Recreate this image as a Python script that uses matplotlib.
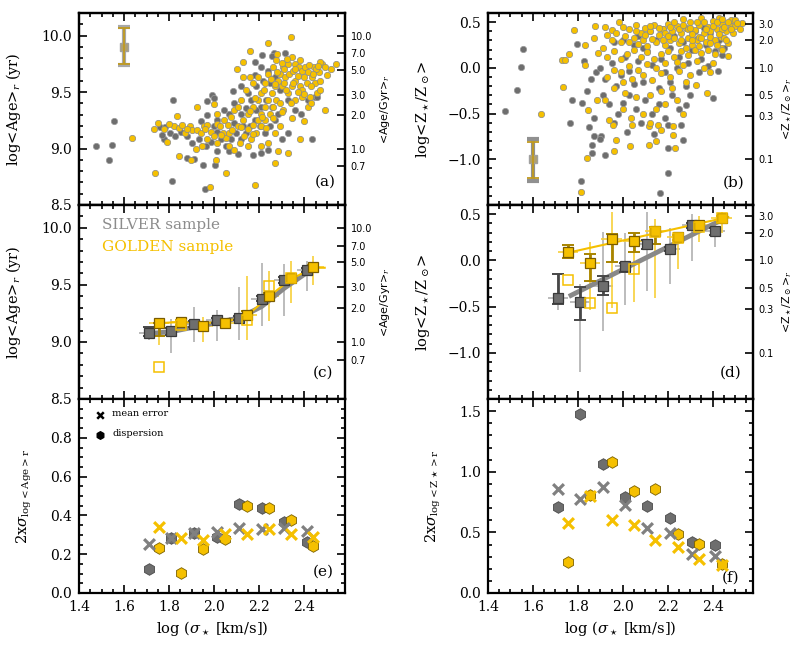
import numpy as np
import matplotlib
matplotlib.use("Agg")
import matplotlib.pyplot as plt
from matplotlib.ticker import MultipleLocator

plt.rcParams['font.family'] = ['DejaVu Serif']
plt.rcParams['mathtext.fontset'] = 'dejavuserif'

# ---------------- data ----------------
# panel (a): individual galaxies, log sigma vs log<Age>
a_silver = [(1.476,9.02),(1.531,8.90),(1.546,9.03),(1.555,9.24),(1.812,8.71),(1.958,8.64),(1.952,8.85),
            (2.002,8.85),(2.433,9.08),(2.171,8.94),(2.448,9.46),(2.384,9.31),(2.212,9.83),(2.266,9.85),
            (2.315,9.85),(2.257,9.82),(2.179,9.77),(2.085,9.51),(1.97,9.42),(1.989,9.47),(1.76,9.19),
            (1.775,9.08),(1.805,9.14),(1.827,9.11),(1.853,9.15),(1.88,9.11),(1.902,9.05),(1.932,9.08),
            (1.962,9.02),(1.984,9.06),(2.014,9.15),(2.029,9.08),(2.052,9.02),(2.074,9.08),(2.097,9.14),
            (2.119,9.08),(2.142,9.14),(2.157,9.20),(2.179,9.25),(2.202,9.20),(2.224,9.14),(2.246,9.20),
            (2.269,9.25),(2.284,9.31),(2.254,9.37),(2.231,9.43),(2.209,9.37),(2.186,9.34),(2.164,9.43),
            (2.149,9.49),(2.186,9.55),(2.216,9.60),(2.246,9.58),(2.269,9.63),(2.291,9.52),(2.239,9.69),
            (2.209,9.72),(2.179,9.65),(2.119,9.55),(2.089,9.40),(2.067,9.31),(2.044,9.34),(2.014,9.25),
            (1.999,9.20),(1.97,9.30),(1.94,9.24),(2.119,9.31),(2.142,9.36),(2.127,9.20),(2.089,9.23),
            (2.329,9.43),(2.359,9.34),(2.418,9.43),(2.455,9.46),(2.329,9.14),(2.299,9.08),(2.239,8.99),
            (2.209,8.96),(2.104,8.95),(2.067,8.98),(2.014,8.98),(1.91,8.91),(1.88,8.92),(1.768,9.12),
            (1.783,9.19),(1.817,9.43),(1.999,9.45)]
a_golden = [(1.733,9.17),(1.75,9.23),(1.775,9.17),(1.82,9.20),(1.842,9.18),(1.857,9.21),(1.892,9.20),
            (1.835,9.29),(1.79,9.06),(1.872,9.14),(1.902,9.16),(1.917,9.00),(1.925,9.16),(1.94,9.14),
            (1.955,9.20),(1.97,9.21),(1.987,9.15),(2.014,9.22),(2.026,9.20),(2.044,9.25),(2.06,9.21),
            (2.074,9.28),(2.037,9.14),(2.052,9.09),(2.067,9.02),(2.089,8.99),(2.112,9.05),(2.134,9.11),
            (2.149,9.17),(2.171,9.21),(2.194,9.25),(2.209,9.31),(2.224,9.37),(2.239,9.43),(2.254,9.49),
            (2.269,9.55),(2.284,9.60),(2.291,9.66),(2.306,9.72),(2.329,9.75),(2.344,9.81),(2.359,9.75),
            (2.374,9.72),(2.389,9.69),(2.404,9.72),(2.418,9.68),(2.433,9.63),(2.448,9.58),(2.463,9.68),
            (2.411,9.58),(2.381,9.55),(2.359,9.60),(2.344,9.55),(2.329,9.49),(2.314,9.63),(2.299,9.55),
            (2.276,9.43),(2.261,9.37),(2.246,9.31),(2.227,9.25),(2.209,9.20),(2.186,9.14),(2.164,9.08),
            (2.149,9.02),(2.269,9.14),(2.291,9.20),(2.306,9.34),(2.359,9.43),(2.389,9.46),(2.426,9.46),
            (2.418,9.37),(2.455,9.49),(2.441,9.72),(2.478,9.75),(2.209,9.49),(2.194,9.43),(2.171,9.37),
            (2.149,9.31),(2.127,9.25),(2.104,9.20),(2.119,9.43),(2.142,9.52),(2.171,9.58),(2.194,9.63),
            (2.224,9.58),(2.239,9.66),(2.261,9.72),(2.276,9.78),(2.299,9.76),(2.321,9.79),(2.209,9.02),
            (2.239,9.05),(2.014,9.05),(1.999,9.11),(1.97,9.08),(1.947,9.02),(2.067,9.14),(2.089,9.34),
            (2.104,9.37),(2.127,9.63),(2.157,9.63),(1.999,9.39),(2.014,9.31),(2.541,9.75),(2.493,9.34),
            (2.468,9.77),(2.40,9.24),(2.343,9.27),(2.38,9.08),(2.329,8.96),(2.282,8.98),(2.342,9.99),
            (2.237,9.93),(2.159,9.86),(2.127,9.77),(2.101,9.70),(1.637,9.09),(1.735,8.78),(1.98,8.66),
            (2.053,8.78),(2.182,8.68),(2.269,8.87),(1.842,8.93),(1.895,8.90),(2.007,8.90),(1.925,9.37),
            (2.33,9.66),(2.37,9.64),(2.40,9.63),(2.45,9.70),(2.47,9.60),(2.35,9.69),(2.28,9.68),
            (2.31,9.58),(2.39,9.52),(2.43,9.55),(2.25,9.62),(2.32,9.52),(2.37,9.50),(2.29,9.40),
            (2.36,9.70),(2.38,9.78),(2.42,9.74),(2.44,9.66),(2.46,9.73),(2.49,9.72),(2.50,9.65),
            (2.47,9.52),(2.43,9.40),(2.40,9.48),(2.35,9.58),(2.31,9.70),(2.27,9.57),(2.22,9.52),
            (2.18,9.45),(2.16,9.33),(2.21,9.28),(2.26,9.27),(2.30,9.32),(2.08,9.16),(2.12,9.19),
            (2.03,9.12),(1.96,9.17),(1.88,9.17),(1.80,9.22),(2.17,9.13),(2.23,9.18),(2.34,9.40),
            (2.52,9.70),(2.28,9.84)]

# panel (b): individual galaxies, log sigma vs log<Z/Zsun>
b_silver = [(1.476,-0.47),(1.529,-0.24),(1.545,0.01),(1.556,0.21),(1.766,-0.60),(1.773,-0.35),(1.796,0.26),
            (1.813,-1.24),(1.827,0.07),(1.862,-0.84),(1.863,-0.93),(1.87,-0.75),(1.904,-0.75),(1.919,-0.95),
            (2.167,-1.37),(2.20,-1.15),(2.20,-0.88),(2.267,-0.79),(2.422,-0.03),(2.441,0.145),(2.403,-0.33),
            (2.281,-0.41),(1.88,-0.05),(1.90,0.00),(1.92,-0.12),(1.95,0.05),(1.97,-0.20),(1.99,-0.08),
            (2.01,0.12),(2.03,-0.03),(2.05,0.25),(2.07,0.08),(2.09,-0.15),(2.11,0.18),(2.13,0.03),(2.15,0.30),
            (2.17,0.10),(2.19,-0.05),(2.21,0.22),(2.23,0.35),(2.25,0.12),(2.27,0.28),(2.29,0.05),(2.31,0.20),
            (2.33,0.32),(2.35,0.10),(2.37,0.25),(2.39,0.38),(2.41,0.18),(2.43,0.30),(2.45,0.22),(2.00,-0.38),
            (2.03,-0.30),(2.06,-0.45),(2.10,-0.35),(2.13,-0.50),(2.16,-0.40),(2.19,-0.55),(2.22,-0.30),
            (2.25,-0.45),(2.28,-0.20),(1.94,-0.40),(1.91,-0.30),(1.87,-0.55),(1.96,-0.60),(2.02,-0.70),
            (2.08,-0.60),(2.14,-0.72),(2.20,-0.62),(2.26,-0.62),(1.84,-0.25),(1.86,-0.12),(2.07,0.35),
            (2.12,0.40),(2.18,0.43),(2.00,0.30),(1.96,0.28),(2.09,0.22),(2.16,-0.22),(2.21,-0.15),
            (2.30,-0.30),(2.34,-0.05),(2.38,0.02),(1.98,-0.50),(2.05,-0.18),(1.85,-0.65),(1.90,-0.78),
            (1.82,-0.38),(2.24,0.00),(2.32,0.40),(2.36,0.44)]
b_golden = [(1.634,-0.50),(1.785,0.41),(1.732,-0.21),(1.73,0.09),(1.745,0.09),(1.76,0.15),(1.813,-1.36),
            (1.84,-0.99),(1.833,0.25),(1.834,0.03),(1.874,0.33),(1.877,0.46),(1.919,0.45),(1.953,0.41),
            (1.985,0.50),(1.844,-0.46),(1.887,-0.35),(1.921,-0.35),(1.956,-0.63),(1.96,-0.91),(1.97,-0.79),
            (2.033,-0.86),(2.119,-0.84),(2.148,-0.80),(2.234,-0.88),(2.222,-0.73),(2.037,-0.55),(2.119,-0.64),
            (2.156,-0.62),(2.222,-0.64),(2.326,-0.19),(2.375,-0.28),(2.388,-0.04),(2.437,0.22),(2.437,0.34),
            (2.53,0.49),(2.481,0.46),(2.00,0.45),(2.03,0.42),(2.06,0.47),(2.08,0.38),(2.10,0.44),(2.12,0.40),
            (2.14,0.47),(2.16,0.36),(2.18,0.42),(2.20,0.48),(2.22,0.40),(2.24,0.46),(2.26,0.38),(2.28,0.44),
            (2.30,0.50),(2.32,0.41),(2.34,0.47),(2.36,0.38),(2.38,0.45),(2.40,0.51),(2.42,0.43),(2.44,0.48),
            (2.46,0.40),(2.48,0.52),(2.50,0.46),(2.52,0.42),(2.27,0.53),(2.35,0.55),(2.43,0.55),(2.21,0.30),
            (2.25,0.27),(2.29,0.33),(2.31,0.25),(2.33,0.30),(2.37,0.28),(2.39,0.34),(2.41,0.30),(2.45,0.33),
            (2.47,0.27),(2.23,0.33),(2.19,0.25),(2.15,0.28),(2.13,0.32),(2.11,0.24),(2.09,0.30),(2.07,0.26),
            (2.05,0.33),(2.03,0.28),(2.01,0.35),(1.99,0.28),(1.97,0.38),(1.95,0.30),(1.93,0.36),(1.91,0.22),
            (1.89,0.16),(1.93,0.12),(1.96,0.18),(1.99,0.10),(2.02,0.15),(2.05,0.20),(2.08,0.12),(2.11,0.17),
            (2.14,0.10),(2.17,0.15),(2.20,0.18),(2.23,0.12),(2.26,0.18),(2.29,0.14),(2.32,0.20),(2.35,0.16),
            (2.38,0.20),(2.41,0.15),(2.44,0.19),(2.47,0.13),(2.24,0.06),(2.27,0.03),(2.33,0.07),(2.36,0.00),
            (2.40,0.05),(2.19,0.05),(2.15,0.00),(2.11,0.04),(2.07,-0.02),(2.03,0.02),(1.99,-0.05),(1.96,-0.02),
            (1.93,-0.10),(2.00,-0.15),(2.04,-0.12),(2.09,-0.08),(2.13,-0.13),(2.17,-0.06),(2.21,-0.10),
            (2.25,-0.03),(2.30,-0.08),(2.28,-0.16),(2.22,-0.22),(2.17,-0.25),(2.12,-0.30),(2.06,-0.32),
            (2.01,-0.28),(1.96,-0.22),(2.15,-0.45),(2.09,-0.50),(2.00,-0.45),(2.19,-0.40),(2.24,-0.35),
            (2.27,-0.50),(2.12,-0.60),(2.04,-0.62),(1.94,-0.57),(2.17,-0.68),(2.31,0.37),(2.34,0.34),
            (2.39,0.40),(2.44,0.42),(2.49,0.38),(2.36,0.50),(2.29,0.42),(2.21,0.45),
            (2.25,0.42),(2.27,0.47),(2.30,0.44),(2.33,0.50),(2.37,0.43),(2.40,0.46),(2.42,0.50),
            (2.45,0.45),(2.47,0.50),(2.50,0.52),(2.23,0.50),(2.19,0.38),(2.16,0.44),(2.31,0.30),
            (2.35,0.33),(2.43,0.37),(2.46,0.30),(2.39,0.27),(2.28,0.22),(2.20,0.35),(2.12,0.46),
            (2.06,0.40),(2.10,0.36),(2.18,0.30),(2.26,0.30),(2.34,0.24),(2.42,0.25),(2.48,0.43),
            (2.51,0.49),(2.44,0.53)]

# typical error bars (top-left in a, bottom-left in b)
a_typ = dict(x=1.6, y=9.9, silver=(9.74, 10.08), golden=(9.75, 10.07))
b_typ = dict(x=1.6, y=-1.0, silver=(-1.24, -0.78), golden=(-1.21, -0.81))

# binned values
silver_bins = [1.71, 1.81, 1.91, 2.01, 2.11, 2.21, 2.31, 2.41]
golden_bins = [1.755, 1.854, 1.95, 2.048, 2.145, 2.244, 2.34, 2.44]

c_silver_y = [9.076, 9.097, 9.158, 9.19, 9.21, 9.38, 9.545, 9.633]
c_silver_thin_lo = [9.02, 8.90, 9.00, 9.01, 9.02, 9.14, 9.23, 9.45]
c_silver_thin_hi = [9.13, 9.20, 9.31, 9.28, 9.48, 9.69, 9.68, 9.71]
c_silver_dark_lo = [9.05, 9.06, 9.13, 9.17, 9.19, 9.36, 9.52, 9.61]
c_silver_dark_hi = [9.13, 9.12, 9.18, 9.21, 9.23, 9.40, 9.57, 9.65]
c_golden_y = [9.164, 9.176, 9.138, 9.167, 9.232, 9.405, 9.563, 9.654]
c_golden_thin_lo = [8.97, 9.12, 9.00, 9.12, 9.02, 9.18, 9.34, 9.50]
c_golden_thin_hi = [9.19, 9.20, 9.22, 9.20, 9.58, 9.62, 9.71, 9.75]
c_golden_dark_lo = [9.05, 9.15, 9.11, 9.15, 9.20, 9.38, 9.54, 9.63]
c_golden_dark_hi = [9.17, 9.19, 9.16, 9.19, 9.27, 9.43, 9.58, 9.67]
c_golden_open_x = [1.755, 1.854, 2.145, 2.244, 2.34]
c_golden_open_y = [8.78, 9.15, 9.19, 9.49, 9.56]
c_silver_fit_x = [1.69, 1.81, 1.91, 2.01, 2.11, 2.21, 2.31, 2.42]
c_silver_fit_y = [9.07, 9.09, 9.13, 9.17, 9.21, 9.31, 9.47, 9.62]
c_golden_fit_x = [1.755, 1.854, 1.95, 2.048, 2.145, 2.244, 2.34, 2.44, 2.49]
c_golden_fit_y = [9.165, 9.175, 9.165, 9.175, 9.23, 9.40, 9.55, 9.65, 9.65]

d_silver_y = [-0.405, -0.452, -0.278, -0.065, 0.174, 0.12, 0.38, 0.32]
d_silver_thin_lo = [-0.54, -1.21, -0.76, -0.48, -0.33, -0.26, -0.01, 0.14]
d_silver_thin_hi = [-0.15, -0.25, 0.31, 0.30, 0.52, 0.35, 0.50, 0.40]
d_silver_dark_lo = [-0.47, -0.645, -0.37, -0.12, 0.12, 0.10, 0.35, 0.27]
d_silver_dark_hi = [-0.15, -0.29, -0.17, -0.03, 0.22, 0.14, 0.41, 0.35]
d_golden_y = [0.09, -0.03, 0.23, 0.21, 0.32, 0.25, 0.388, 0.46]
d_golden_thin_lo = [0.02, -0.54, -0.52, -0.45, -0.41, -0.09, 0.20, 0.30]
d_golden_thin_hi = [0.18, 0.20, 0.52, 0.30, 0.45, 0.31, 0.48, 0.52]
d_golden_dark_lo = [0.03, -0.22, -0.02, 0.09, 0.18, 0.22, 0.34, 0.42]
d_golden_dark_hi = [0.17, 0.07, 0.29, 0.30, 0.36, 0.28, 0.42, 0.48]
d_golden_open_y = [-0.21, -0.46, -0.51, -0.09, 0.31, 0.24, 0.36, 0.46]
d_silver_fit_x = [1.76, 2.45]
d_silver_fit_y = [-0.39, 0.45]
d_golden_fit_x = [1.75, 2.47]
d_golden_fit_y = [0.08, 0.47]

e_silver_err = [0.251, 0.282, 0.307, 0.316, 0.337, 0.328, 0.333, 0.321]
e_golden_err = [0.342, 0.285, 0.273, 0.304, 0.302, 0.328, 0.304, 0.287]
e_silver_disp = [0.124, 0.282, 0.307, 0.29, 0.457, 0.437, 0.368, 0.264]
e_golden_disp = [0.232, 0.105, 0.227, 0.28, 0.45, 0.44, 0.375, 0.244]

f_silver_err = [0.86, 0.775, 0.874, 0.723, 0.537, 0.495, 0.322, 0.303]
f_golden_err = [0.578, 0.797, 0.60, 0.558, 0.435, 0.38, 0.281, 0.235]
f_silver_disp = [0.712, 1.477, 1.063, 0.792, 0.714, 0.619, 0.418, 0.397]
f_golden_disp = [0.259, 0.808, 1.08, 0.841, 0.854, 0.49, 0.405, 0.243]

age_right_ticks = [10.0, 7.0, 5.0, 3.0, 2.0, 1.0, 0.7]
z_right_ticks = [3.0, 2.0, 1.0, 0.5, 0.3, 0.1]

# ---------------- style ----------------
GOLD = '#f5c000'
GOLD_LIGHT = '#f7cf3a'
GOLD_DARK = '#a88400'
GOLD_EDGE = '#7a5c00'
GRAY = '#6e6e6e'
GRAY_LIGHT = '#b0b0b0'
GRAY_DARK = '#474747'
GRAY_EDGE = '#3a3a3a'
FIT_GRAY = '#888888'

W, H = 793, 660
fig = plt.figure(figsize=(W / 100, H / 100), dpi=100)

def rect(x0, x1, y0, y1):
    return [x0 / W, 1 - y1 / H, (x1 - x0) / W, (y1 - y0) / H]

LX = (79, 345)
RX = (488, 753)
ROWS = [(13, 205), (205, 399), (399, 593)]

XLIM = (1.4, 2.58)

def setup(ax, ylim, ymaj, ymin, xlabels=False, right_ticks=True):
    ax.set_xlim(*XLIM)
    ax.set_ylim(*ylim)
    ax.xaxis.set_major_locator(MultipleLocator(0.2))
    ax.xaxis.set_minor_locator(MultipleLocator(0.05))
    ax.yaxis.set_minor_locator(MultipleLocator(ymin))
    ax.set_yticks(ymaj)
    ax.tick_params(which='both', direction='in', top=True, right=right_ticks, width=1.2,
                   labelsize=10, pad=5)
    ax.tick_params(which='major', length=6)
    ax.tick_params(which='minor', length=3)
    if not xlabels:
        ax.tick_params(labelbottom=False)
    for s in ax.spines.values():
        s.set_linewidth(1.6)

def right_axis(ax, vals, label, xpos, scale=1.0):
    ax2 = ax.twinx()
    ax2.set_ylim(ax.get_ylim())
    pos = np.log10(np.array(vals) * scale)
    ax2.set_yticks(pos)
    ax2.set_yticklabels(['%.1f' % v for v in vals], family='DejaVu Sans', fontsize=7)
    ax2.tick_params(direction='in', length=6, width=1.2, pad=4)
    ax2.set_ylabel(label, family='DejaVu Sans', fontsize=8)
    ax2.yaxis.set_label_coords(xpos, 0.5)
    for s in ax2.spines.values():
        s.set_linewidth(1.6)
    return ax2

def binned(ax, x, y, tlo, thi, dlo, dhi, light, dark, face, edge, z):
    x = np.array(x); y = np.array(y)
    ax.errorbar(x, y, yerr=[y - np.array(tlo), np.array(thi) - y], fmt='none',
                ecolor=light, elinewidth=1.2, zorder=z)
    ax.errorbar(x, y, xerr=0.045, fmt='none', ecolor=light, elinewidth=1.2, zorder=z)
    ax.errorbar(x, y, yerr=[y - np.array(dlo), np.array(dhi) - y], fmt='none',
                ecolor=dark, elinewidth=2.0, capsize=4, capthick=1.4, zorder=z + 2)
    ax.plot(x, y, 's', ms=7, mfc=face, mec=edge, mew=0.9, zorder=z + 3)

def letter(ax, s, x, y):
    ax.text(x, y, s, transform=ax.transAxes, fontsize=11, ha='center', va='center')

def scatter_pts(ax, pts, face, edge, z):
    xs, ys = zip(*pts)
    ax.scatter(xs, ys, s=21, c=face, edgecolors=edge, linewidths=0.5, zorder=z)

# ---- (a)
axa = fig.add_axes(rect(*LX, *ROWS[0]))
setup(axa, (8.5, 10.2), [8.5, 9.0, 9.5, 10.0], 0.1, right_ticks=False)
scatter_pts(axa, a_silver, GRAY, '#9a9a9a', 3)
scatter_pts(axa, a_golden, GOLD, '#8a8a8a', 4)
axa.errorbar([a_typ['x']], [a_typ['y']], yerr=[[a_typ['y'] - a_typ['silver'][0]], [a_typ['silver'][1] - a_typ['y']]],
             fmt='s', ms=6, mfc='#b0a070', mec='#a0a0a0', ecolor='#a8a8a8', elinewidth=3, capsize=4, capthick=3, zorder=5)
axa.errorbar([a_typ['x']], [a_typ['y']], yerr=[[a_typ['y'] - a_typ['golden'][0]], [a_typ['golden'][1] - a_typ['y']]],
             fmt='none', ecolor='#c09a20', elinewidth=1.3, capsize=4, capthick=1.3, zorder=6)
axa.set_ylabel(r'log<Age>$_r$ (yr)', fontsize=10.5)
axa.yaxis.set_label_coords(-0.21, 0.5)
right_axis(axa, age_right_ticks, r'<Age/Gyr>$_r$', 1.125, scale=1e9)
letter(axa, '(a)', 0.925, 0.12)

# ---- (b)
axb = fig.add_axes(rect(*RX, *ROWS[0]))
setup(axb, (-1.5, 0.6), [-1.0, -0.5, 0.0, 0.5], 0.1, right_ticks=False)
scatter_pts(axb, b_silver, GRAY, '#9a9a9a', 3)
scatter_pts(axb, b_golden, GOLD, '#8a8a8a', 4)
axb.errorbar([b_typ['x']], [b_typ['y']], yerr=[[b_typ['y'] - b_typ['silver'][0]], [b_typ['silver'][1] - b_typ['y']]],
             fmt='s', ms=6, mfc='#b0a070', mec='#a0a0a0', ecolor='#909090', elinewidth=3, capsize=4, capthick=3, zorder=5)
axb.errorbar([b_typ['x']], [b_typ['y']], yerr=[[b_typ['y'] - b_typ['golden'][0]], [b_typ['golden'][1] - b_typ['y']]],
             fmt='none', ecolor='#c09a20', elinewidth=1.3, capsize=4, capthick=1.3, zorder=6)
axb.set_ylabel(r'log<Z$_\star$/Z$_\odot$>', fontsize=10.5)
axb.yaxis.set_label_coords(-0.21, 0.5)
right_axis(axb, z_right_ticks, r'<Z$_\star$/Z$_\odot$>$_r$', 1.105)
letter(axb, '(b)', 0.925, 0.115)

# ---- (c)
axc = fig.add_axes(rect(*LX, *ROWS[1]))
setup(axc, (8.5, 10.2), [8.5, 9.0, 9.5, 10.0], 0.1, right_ticks=False)
binned(axc, silver_bins, c_silver_y, c_silver_thin_lo, c_silver_thin_hi, c_silver_dark_lo, c_silver_dark_hi,
       GRAY_LIGHT, GRAY_DARK, GRAY, GRAY_EDGE, 3)
binned(axc, golden_bins, c_golden_y, c_golden_thin_lo, c_golden_thin_hi, c_golden_dark_lo, c_golden_dark_hi,
       GOLD_LIGHT, GOLD_DARK, GOLD, GOLD_EDGE, 3)
axc.plot(c_silver_fit_x, c_silver_fit_y, color=FIT_GRAY, lw=3.5, zorder=4, solid_capstyle='butt')
axc.plot(c_golden_fit_x, c_golden_fit_y, color=GOLD, lw=1.5, zorder=4)
axc.plot(c_golden_open_x, c_golden_open_y, 's', ms=7, mfc='none', mec=GOLD, mew=1.1, zorder=7)
axc.text(0.086, 0.897, 'SILVER sample', color='#8c8c8c', fontsize=11, transform=axc.transAxes, va='center')
axc.text(0.086, 0.784, 'GOLDEN sample', color=GOLD, fontsize=11, transform=axc.transAxes, va='center')
axc.set_ylabel(r'log<Age>$_r$ (yr)', fontsize=10.5)
axc.yaxis.set_label_coords(-0.21, 0.5)
right_axis(axc, age_right_ticks, r'<Age/Gyr>$_r$', 1.125, scale=1e9)
letter(axc, '(c)', 0.917, 0.134)

# ---- (d)
axd = fig.add_axes(rect(*RX, *ROWS[1]))
setup(axd, (-1.5, 0.6), [-1.0, -0.5, 0.0, 0.5], 0.1, right_ticks=False)
binned(axd, silver_bins, d_silver_y, d_silver_thin_lo, d_silver_thin_hi, d_silver_dark_lo, d_silver_dark_hi,
       GRAY_LIGHT, GRAY_DARK, GRAY, GRAY_EDGE, 3)
binned(axd, golden_bins, d_golden_y, d_golden_thin_lo, d_golden_thin_hi, d_golden_dark_lo, d_golden_dark_hi,
       GOLD_LIGHT, GOLD_DARK, GOLD, GOLD_EDGE, 3)
axd.plot(d_silver_fit_x, d_silver_fit_y, color=FIT_GRAY, lw=3.5, zorder=4, solid_capstyle='butt')
axd.plot(d_golden_fit_x, d_golden_fit_y, color=GOLD, lw=1.5, zorder=4)
axd.plot(golden_bins, d_golden_open_y, 's', ms=7, mfc='none', mec=GOLD, mew=1.1, zorder=7)
axd.set_ylabel(r'log<Z$_\star$/Z$_\odot$>', fontsize=10.5)
axd.yaxis.set_label_coords(-0.21, 0.5)
right_axis(axd, z_right_ticks, r'<Z$_\star$/Z$_\odot$>$_r$', 1.105)
letter(axd, '(d)', 0.917, 0.134)

# ---- (e)
axe = fig.add_axes(rect(*LX, *ROWS[2]))
setup(axe, (0.0, 1.0), [0.0, 0.2, 0.4, 0.6, 0.8], 0.05, xlabels=True)
axe.scatter(silver_bins, e_silver_disp, marker='h', s=70, c=GRAY, edgecolors='#4a4a4a', linewidths=0.6, zorder=3)
axe.scatter(golden_bins, e_golden_disp, marker='h', s=70, c=GOLD, edgecolors='#7a6000', linewidths=0.6, zorder=3)
axe.scatter(silver_bins, e_silver_err, marker='x', s=60, c='#808080', linewidths=2.3, zorder=4)
axe.scatter(golden_bins, e_golden_err, marker='x', s=60, c=GOLD, linewidths=2.3, zorder=4)
axe.scatter([0.079], [0.918], marker='x', s=22, c='k', linewidths=1.8, transform=axe.transAxes, zorder=5)
axe.scatter([0.079], [0.815], marker='h', s=30, c='k', transform=axe.transAxes, zorder=5)
axe.text(0.125, 0.925, 'mean error', fontsize=7, transform=axe.transAxes, va='center')
axe.text(0.125, 0.822, 'dispersion', fontsize=7, transform=axe.transAxes, va='center')
axe.set_ylabel(r'2x$\sigma_{\rm log{<}Age{>}r}$', fontsize=10.5)
axe.yaxis.set_label_coords(-0.17, 0.5)
axe.set_xlabel(r'log ($\sigma_\star$ [km/s])', fontsize=10.5)
axe.xaxis.set_label_coords(0.5, -0.135)
letter(axe, '(e)', 0.917, 0.108)

# ---- (f)
axf = fig.add_axes(rect(*RX, *ROWS[2]))
setup(axf, (0.0, 1.6), [0.0, 0.5, 1.0, 1.5], 0.1, xlabels=True)
axf.scatter(silver_bins, f_silver_disp, marker='h', s=70, c=GRAY, edgecolors='#4a4a4a', linewidths=0.6, zorder=3)
axf.scatter(golden_bins, f_golden_disp, marker='h', s=70, c=GOLD, edgecolors='#7a6000', linewidths=0.6, zorder=3)
axf.scatter(silver_bins, f_silver_err, marker='x', s=60, c='#808080', linewidths=2.3, zorder=4)
axf.scatter(golden_bins, f_golden_err, marker='x', s=60, c=GOLD, linewidths=2.3, zorder=4)
axf.set_ylabel(r'2x$\sigma_{\rm log{<}Z\star{>}r}$', fontsize=10.5)
axf.yaxis.set_label_coords(-0.17, 0.5)
axf.set_xlabel(r'log ($\sigma_\star$ [km/s])', fontsize=10.5)
axf.xaxis.set_label_coords(0.5, -0.135)
letter(axf, '(f)', 0.917, 0.077)

fig.savefig('out.png', dpi=100)
